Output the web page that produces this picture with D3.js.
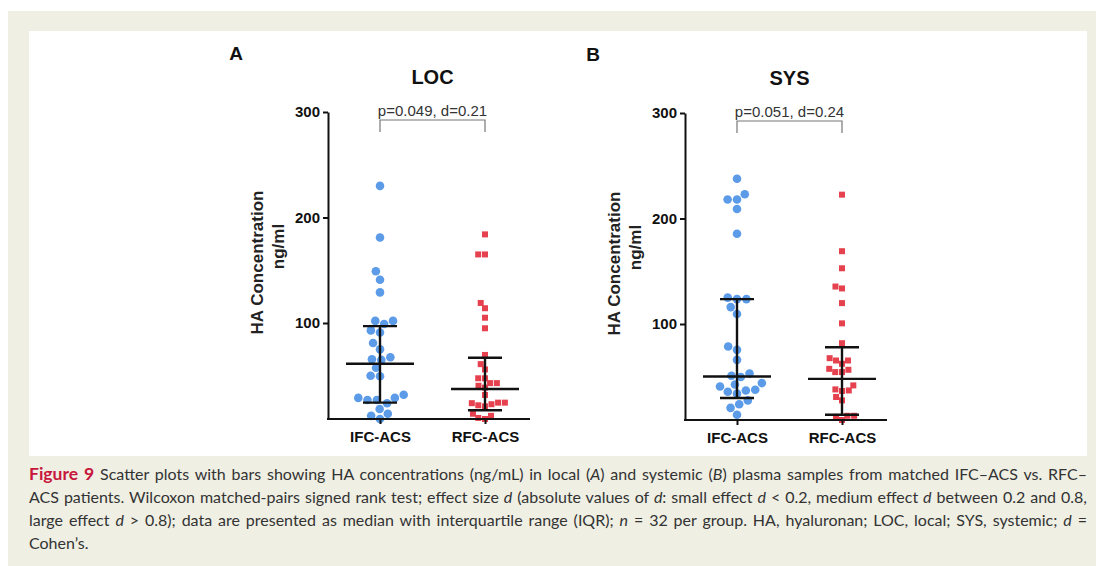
<!DOCTYPE html>
<html>
<head>
<meta charset="utf-8">
<script src="https://cdn.jsdelivr.net/npm/d3@7"></script>
<style>
  body { margin: 0; background: #fff; }
  svg { display: block; }
</style>
</head>
<body>
<div id="chart"></div>
<script>
// --- data ---
var categories = ["IFC-ACS", "RFC-ACS"];
var yTicks = [100, 200, 300];
var yMin = 9, yMax = 300;

var titles = ["LOC", "SYS"];
var letters = ["A", "B"];
var pLabels = ["p=0.049, d=0.21", "p=0.051, d=0.24"];

var locIFC = [230, 181, 149, 141, 129, 102, 102, 99, 93, 91, 81, 75, 67.5, 65, 65.6, 57.6,
              50, 49.5, 32, 29, 29, 27, 24, 27, 14, 18.5, 12, 9];
var locRFC = [184, 165, 165, 119, 114, 105, 95, 69.7, 56, 61, 47.6, 47.6, 43, 40.5, 43,
              38.7, 31.8, 24.5, 23, 22, 24, 24.5, 21, 14, 12, 10, 9];
var sysIFC = [237.7, 218, 218, 223, 209, 185.6, 125, 123.6, 123.6, 116, 109.4, 75.5, 78.6, 66,
              51, 53, 49.7, 44, 42.7, 40.8, 37, 35.8, 37.7, 34, 27.6, 24, 20.5, 14];
var sysRFC = [222.6, 169, 152.8, 135.5, 133.7, 119.8, 100.6, 81.8, 67.6, 65.4, 62.3, 65.4,
              56.6, 54.4, 54.4, 57.5, 38, 36.5, 37, 41.8, 30.8, 27.6, 13, 12, 13, 9];

var locMedian = [61.4, 37.4], locQ1 = [24.5, 17.3], locQ3 = [97, 67];
var sysMedian = [50.3, 48],   sysQ1 = [29.9, 14],   sysQ3 = [123.6, 78];

var captionLines = [
  [["b", "Figure 9"], ["", " Scatter plots with bars showing HA concentrations (ng/mL) in local ("], ["i", "A"],
   ["", ") and systemic ("], ["i", "B"], ["", ") plasma samples from matched IFC\u2013ACS vs. RFC\u2013"]],
  [["", "ACS patients. Wilcoxon matched-pairs signed rank test; effect size "], ["i", "d"],
   ["", " (absolute values of "], ["i", "d"], ["", ": small effect "], ["i", "d"],
   ["", " < 0.2, medium effect "], ["i", "d"], ["", " between 0.2 and 0.8,"]],
  [["", "large effect "], ["i", "d"], ["", " > 0.8); data are presented as median with interquartile range (IQR); "],
   ["i", "n"], ["", " = 32 per group. HA, hyaluronan; LOC, local; SYS, systemic; "], ["i", "d"], ["", " ="]],
  [["", "Cohen\u2019s."]]
];

var panels = [
  { groups: [locIFC, locRFC], median: locMedian, q1: locQ1, q3: locQ3 },
  { groups: [sysIFC, sysRFC], median: sysMedian, q1: sysQ1, q3: sysQ3 }
];

// --- layout ---
var W = 1096, H = 566;
var blue = "#5b9be8", red = "#e5414f";

var svg = d3.select("#chart").append("svg")
  .attr("width", W).attr("height", H)
  .style("font-family", "Arial, 'Liberation Sans', sans-serif");

svg.append("rect").attr("x", 8).attr("y", 11).attr("width", W - 8).attr("height", H - 11)
  .attr("fill", "#efefe4");
svg.append("rect").attr("x", 29).attr("y", 31).attr("width", 1058).attr("height", 425)
  .attr("fill", "#fff");

// beeswarm: place each point as close to the centre as it can go
function dodge(values, y, r) {
  var idx = values.map(function(v, i) { return i; })
    .sort(function(a, b) { return values[a] - values[b]; });
  var placed = [];
  var out = new Array(values.length);
  idx.forEach(function(i) {
    var py = y(values[i]);
    var bad = [];
    placed.forEach(function(p) {
      var dy = Math.abs(p.y - py);
      if (dy < 2 * r) {
        var dx = Math.sqrt(4 * r * r - dy * dy);
        bad.push([p.x - dx, p.x + dx]);
      }
    });
    var cands = [0];
    bad.forEach(function(b) { cands.push(b[0], b[1]); });
    cands.sort(function(a, b) { return Math.abs(a) - Math.abs(b) || a - b; });
    var x = cands.find(function(c) {
      return bad.every(function(b) { return c <= b[0] + 1e-6 || c >= b[1] - 1e-6; });
    });
    placed.push({ x: x, y: py });
    out[i] = { x: x, y: py, v: values[i] };
  });
  return out;
}

var axisLen = 202, plotH = 307;
var origins = [[328, 112], [685, 113]];

panels.forEach(function(p, k) {
  var g = svg.append("g").attr("transform", "translate(" + origins[k][0] + "," + origins[k][1] + ")");

  var y = d3.scaleLinear().domain([yMin, yMax]).range([plotH, 0]);
  var x = d3.scalePoint().domain(categories).range([52, 157]);

  // points
  p.groups.forEach(function(vals, gi) {
    var cx = x(categories[gi]);
    var pts = dodge(vals, y, gi === 0 ? 4.7 : 3.4);
    if (gi === 0) {
      g.selectAll(".dot" + gi).data(pts).enter().append("circle")
        .attr("cx", function(d) { return cx + d.x; })
        .attr("cy", function(d) { return d.y; })
        .attr("r", 4.3)
        .attr("fill", blue);
    } else {
      g.selectAll(".sq" + gi).data(pts).enter().append("rect")
        .attr("x", function(d) { return cx + d.x - 3; })
        .attr("y", function(d) { return d.y - 3; })
        .attr("width", 6).attr("height", 6)
        .attr("fill", red);
    }
  });

  // median + IQR
  categories.forEach(function(c, gi) {
    var cx = x(c);
    var s = g.append("g").attr("stroke", "#111").attr("stroke-width", 2.4);
    s.append("line").attr("x1", cx).attr("x2", cx).attr("y1", y(p.q1[gi])).attr("y2", y(p.q3[gi]));
    s.append("line").attr("x1", cx - 34).attr("x2", cx + 34).attr("y1", y(p.median[gi])).attr("y2", y(p.median[gi]));
    [p.q1[gi], p.q3[gi]].forEach(function(q) {
      s.append("line").attr("x1", cx - 17).attr("x2", cx + 17).attr("y1", y(q)).attr("y2", y(q));
    });
  });

  // y axis
  var ya = g.append("g").call(d3.axisLeft(y).tickValues(yTicks).tickSize(5).tickSizeOuter(0).tickPadding(3));
  ya.select(".domain").attr("stroke", "#111").attr("stroke-width", 2);
  ya.selectAll(".tick line").attr("stroke", "#111").attr("stroke-width", 2);
  ya.selectAll(".tick text").attr("font-size", 15).attr("font-weight", "bold").attr("fill", "#111")
    .attr("font-family", "Arial, 'Liberation Sans', sans-serif");

  // x axis
  var xa = g.append("g").attr("transform", "translate(0," + plotH + ")")
    .call(d3.axisBottom(x).tickSize(5).tickPadding(7));
  xa.select(".domain").remove();
  xa.append("line").attr("x1", -1).attr("x2", axisLen).attr("stroke", "#111").attr("stroke-width", 2);
  xa.selectAll(".tick line").attr("stroke", "#111").attr("stroke-width", 2);
  xa.selectAll(".tick text").attr("font-size", 15).attr("font-weight", "bold").attr("fill", "#111")
    .attr("font-family", "Arial, 'Liberation Sans', sans-serif");

  // y label
  g.append("text").attr("transform", "translate(-71," + (plotH / 2 - 3) + ") rotate(-90)")
    .attr("text-anchor", "middle").attr("dominant-baseline", "central")
    .attr("font-size", 17).attr("font-weight", "bold").attr("fill", "#222").text("HA Concentration");
  g.append("text").attr("transform", "translate(-50," + (plotH / 2 - 19) + ") rotate(-90)")
    .attr("text-anchor", "middle").attr("dominant-baseline", "central")
    .attr("font-size", 17).attr("font-weight", "bold").attr("fill", "#222").text("ng/ml");

  // significance bracket
  var bx1 = x(categories[0]), bx2 = x(categories[1]);
  g.append("path")
    .attr("d", "M" + bx1 + ",20V8H" + bx2 + "V20")
    .attr("fill", "none").attr("stroke", "#777").attr("stroke-width", 1.2);
  g.append("text").attr("x", (bx1 + bx2) / 2).attr("y", 4).attr("text-anchor", "middle")
    .attr("font-size", 15).attr("fill", "#333").text(pLabels[k]);

  // title and panel letter
  g.append("text").attr("x", (bx1 + bx2) / 2).attr("y", -28).attr("text-anchor", "middle")
    .attr("font-size", 20).attr("font-weight", "bold").attr("fill", "#111").text(titles[k]);
  g.append("text").attr("x", -92).attr("y", -52).attr("text-anchor", "middle")
    .attr("font-size", 19).attr("font-weight", "bold").attr("fill", "#111").text(letters[k]);
});

// caption, justified like the journal layout
var capX = 29, capW = 1058, capY = [480, 503, 526, 549];
captionLines.forEach(function(line, li) {
  var t = svg.append("text").attr("x", capX).attr("y", capY[li])
    .attr("font-family", "Lato, 'Open Sans', sans-serif").attr("font-size", 16).attr("fill", "#333");
  line.forEach(function(part) {
    var ts = t.append("tspan").text(part[1]);
    if (part[0] === "b") ts.attr("font-weight", "bold").attr("fill", "#c8173c").attr("font-size", 17.5);
    if (part[0] === "i") ts.attr("font-style", "italic");
  });
  if (li < 3) {
    var natural = t.node().getComputedTextLength();
    var spaces = line.map(function(p) { return p[1]; }).join("").split(" ").length - 1;
    t.attr("word-spacing", (capW - natural) / spaces);
  }
});
</script>
</body>
</html>
